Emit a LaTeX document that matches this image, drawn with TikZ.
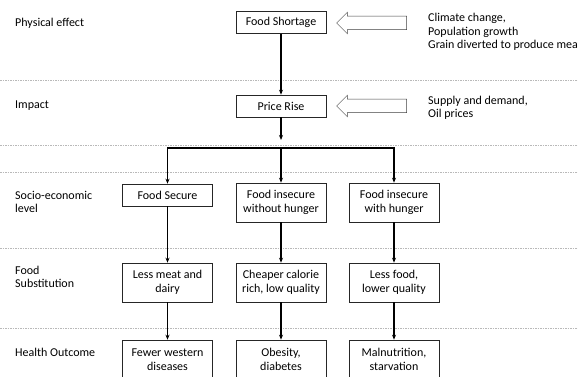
\documentclass[tikz,border=0pt]{standalone}
\usepackage{fontspec}
\setmainfont{Carlito}
\usetikzlibrary{arrows.meta, positioning, shapes.arrows}
\tikzset{
  box/.style    = {draw=black!85, line width=0.6pt, minimum width=90pt,
                   minimum height=22pt, align=center, inner sep=2pt},
  tbox/.style   = {box, minimum height=39pt},
  lbl/.style    = {anchor=west, align=left, inner sep=0pt},
  cause/.style  = {single arrow, draw=black!75, line width=0.5pt,
                   shape border rotate=180, minimum height=70pt,
                   inner xsep=0pt, inner ysep=6.5pt,
                   single arrow head extend=4pt},
  rowsep/.style = {gray!55, dash pattern=on 1.5pt off 1pt, line width=0.6pt},
  arr/.style    = {-{Stealth[length=5pt,width=4pt]}, line width=1.2pt},
  lnk/.style    = {line width=1.2pt, line cap=rect}
}

\begin{document}
\begin{tikzpicture}[x=1pt, y=-1pt, font=\fontsize{12}{13.5}\selectfont]
  \clip (0,0) rectangle (578,377);
  % level separators
  \foreach \y in {80,145,172,248,328}
    \draw[rowsep] (0,\y) -- (578,\y);

  % level labels
  \node[lbl] (physical) at (15,23) {Physical effect};
  \node[lbl] (impact) at (15,106) {Impact};
  \node[lbl] (socio) at (15,202) {Socio-economic\\level};
  \node[lbl] (subst) at (15,277) {Food\\Substitution};
  \node[lbl] (health) at (15,352) {Health Outcome};

  % main chain
  \node[box] (short) at (281,22.5) {Food Shortage};
  \node[box] (rise) at (281,106) {Price Rise};
  \node[box] (secure) at (167.5,195) {Food Secure};
  \node[tbox] (nohunger) at (281,202.5) {Food insecure\\without hunger};
  \node[tbox] (hunger) at (394,202.5) {Food insecure\\with hunger};
  \node[tbox] (meat) at (167.5,282.5) {Less meat and\\dairy};
  \node[tbox] (calorie) at (281,282.5) {Cheaper calorie\\rich, low quality};
  \node[tbox] (lessfood) at (394,282.5) {Less food,\\lower quality};
  \node[tbox] (western) at (167.5,359.5) {Fewer western\\diseases};
  \node[tbox] (obesity) at (281,359.5) {Obesity,\\diabetes};
  \node[tbox] (malnut) at (394,359.5) {Malnutrition,\\starvation};

  % causes
  \node[cause] (arrA) at (375,23) {};
  \node[cause] (arrB) at (375,106) {};
  \node[lbl] (causesA) at (428,32) {Climate change,\\Population growth\\Grain diverted to produce meat};
  \node[lbl] (causesB) at (428,108) {Supply and demand,\\Oil prices};

  % links
  \coordinate (risefoot) at (281,140);
  \coordinate (split) at (281,148);
  \draw[arr] (short) -- (rise);
  \draw[arr] (rise) -- (risefoot);
  \draw[lnk] (secure.north |- split) -- (hunger.north |- split);
  \draw[arr] (secure.north |- split) -- (secure);
  \draw[arr] (split) -- (nohunger);
  \draw[arr] (hunger.north |- split) -- (hunger);
  \foreach \a/\b in {secure/meat, nohunger/calorie, hunger/lessfood,
                     meat/western, calorie/obesity, lessfood/malnut}
    \draw[arr] (\a) -- (\b);
\end{tikzpicture}
\end{document}
